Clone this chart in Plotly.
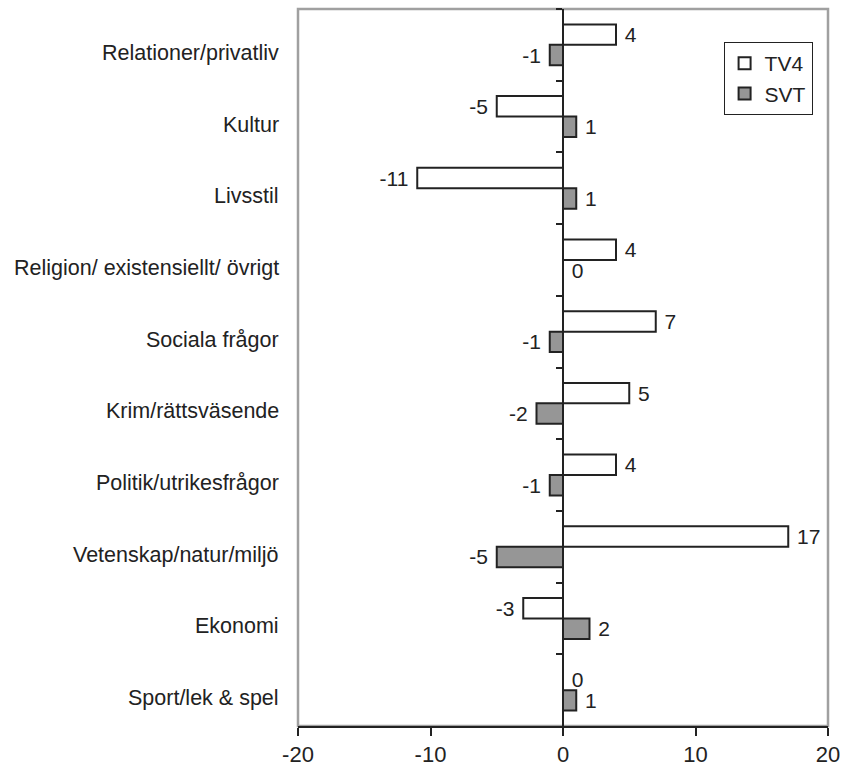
import plotly.graph_objects as go

categories = ["Relationer/privatliv", "Kultur", "Livsstil", "Religion/ existensiellt/ övrigt",
              "Sociala frågor", "Krim/rättsväsende", "Politik/utrikesfrågor",
              "Vetenskap/natur/miljö", "Ekonomi", "Sport/lek & spel"]
tv4 = [4, -5, -11, 4, 7, 5, 4, 17, -3, 0]
svt = [-1, 1, 1, 0, -1, -2, -1, -5, 2, 1]
x_ticks = [-20, -10, 0, 10, 20]

font_fam = "Liberation Sans, Arial, sans-serif"
txt_col = "#222222"
NB = "\u00a0"


def lab(v):
    return f"{v}{NB}" if v < 0 else f"{NB}{v}"


fig = go.Figure()
fig.add_trace(go.Bar(
    y=categories, x=tv4, orientation="h", name="TV4",
    marker=dict(color="white", line=dict(color="#222222", width=2)),
    text=[lab(v) for v in tv4], textposition="outside", cliponaxis=False,
    constraintext="none",
    textfont=dict(size=21, color=txt_col, family=font_fam),
))
fig.add_trace(go.Bar(
    y=categories, x=svt, orientation="h", name="SVT",
    marker=dict(color="#969696", line=dict(color="#222222", width=2)),
    text=[lab(v) for v in svt], textposition="outside", cliponaxis=False,
    constraintext="none",
    textfont=dict(size=21, color=txt_col, family=font_fam),
))
# invisible trace to host the centre axis (category separators at x=0)
fig.add_trace(go.Scatter(
    y=categories, x=[None] * len(categories), yaxis="y2", mode="markers",
    showlegend=False, hoverinfo="skip",
))

annotations = [
    dict(x=0, xref="paper", y=c, yref="y", text=c, showarrow=False,
         xanchor="right", yanchor="middle", xshift=-17, yshift=-8,
         font=dict(size=21.5, color=txt_col, family=font_fam))
    for c in categories
]

fig.update_layout(
    width=849, height=776,
    margin=dict(l=298, r=19, t=9, b=46),
    paper_bgcolor="white", plot_bgcolor="white",
    barmode="group", bargap=0.43, bargroupgap=0,
    font=dict(family=font_fam, color=txt_col),
    xaxis=dict(
        range=[-20, 20], tickvals=x_ticks, ticktext=[str(v) for v in x_ticks],
        showgrid=False, zeroline=False,
        showline=True, linecolor="#222222", linewidth=2,
        ticks="outside", ticklen=8, tickwidth=1.5, tickcolor="#222222",
        tickfont=dict(size=22, color=txt_col),
    ),
    yaxis=dict(
        type="category", categoryorder="array", categoryarray=categories,
        range=[9.5, -0.5], showgrid=False, zeroline=False, showline=False,
        ticks="", showticklabels=False,
    ),
    yaxis2=dict(
        type="category", categoryorder="array", categoryarray=categories,
        range=[9.5, -0.5], overlaying="y", anchor="free", position=0.5,
        side="left", showgrid=False, zeroline=False,
        showline=True, linecolor="#222222", linewidth=2,
        ticks="outside", ticklen=6, tickwidth=1.5, tickcolor="#222222",
        tickson="boundaries", showticklabels=False,
    ),
    legend=dict(
        x=0.803, y=0.954, xanchor="left", yanchor="top",
        bgcolor="white", bordercolor="#222222", borderwidth=1,
        font=dict(size=21, color=txt_col), itemwidth=30,
    ),
    showlegend=True,
    annotations=annotations,
    shapes=[dict(type="rect", xref="paper", yref="paper", x0=0, x1=1, y0=0, y1=1,
                 line=dict(color="#a0a0a0", width=2.5), layer="below")],
)

fig.write_html("out.html")
